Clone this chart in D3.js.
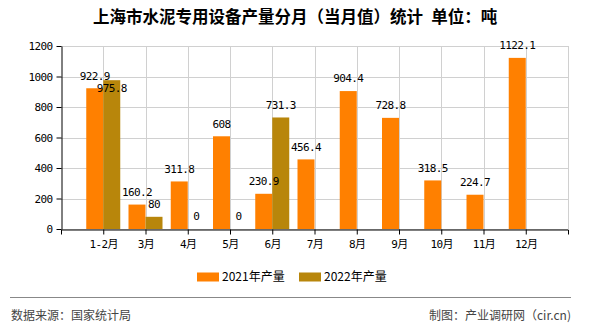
<!DOCTYPE html>
<html><head><meta charset="utf-8">
<script src="https://cdn.jsdelivr.net/npm/d3@7"></script>
<style>
body{margin:0;background:#fff;}
svg{display:block;}
.mono{font-family:"DejaVu Sans Mono","Noto Sans CJK SC",monospace;font-size:11px;letter-spacing:-0.6px;fill:#000;}
</style></head>
<body>
<svg id="c" width="590" height="330"></svg>
<script>
const categories = ["1-2月","3月","4月","5月","6月","7月","8月","9月","10月","11月","12月"];
const values2021 = [922.9,160.2,311.8,608,230.9,456.4,904.4,728.8,318.5,224.7,1122.1];
const values2022 = [975.8,80,0,0,731.3,null,null,null,null,null,null];
const seriesNames = ["2021年产量","2022年产量"];
const seriesColors = ["#ff8000","#b8860b"];
const yTicks = [0,200,400,600,800,1000,1200];
const titleText = "上海市水泥专用设备产量分月（当月值）统计\u2002单位：吨";
const sourceText = "数据来源：国家统计局";
const creditText = "制图：产业调研网（cir.cn)";

const svg = d3.select("#c");
const L = 61, R = 568, T = 46, B = 229;

const x = d3.scalePoint().domain(categories).range([L, R]).padding(1);
const sub = d3.scaleBand().domain(seriesNames).range([-17, 17]);
const y = d3.scaleLinear().domain([0, 1200]).range([B, T]);

// title
svg.append("text").attr("x", 295).attr("y", 23).attr("text-anchor", "middle")
  .attr("font-family", "'Noto Sans CJK SC',sans-serif").attr("font-weight", "bold")
  .attr("font-size", 16.5).attr("fill", "#000").text(titleText);

// grid
const grid = svg.append("g").attr("stroke", "#d0d0d0").attr("stroke-width", 1);
grid.selectAll("line.h").data(yTicks).join("line")
  .attr("x1", L).attr("x2", R).attr("y1", d => Math.round(y(d)) + 0.5).attr("y2", d => Math.round(y(d)) + 0.5);
grid.selectAll("line.v").data(categories.concat(["__end"])).join("line")
  .attr("x1", d => d === "__end" ? R + 0.5 : Math.round(x(d)) + 0.5)
  .attr("x2", d => d === "__end" ? R + 0.5 : Math.round(x(d)) + 0.5)
  .attr("y1", T).attr("y2", B);

// bars
const series = [values2021, values2022];
const barData = [];
categories.forEach((c, i) => series.forEach((vals, s) => {
  if (vals[i] !== null) barData.push({c, s, v: vals[i]});
}));
svg.append("g").selectAll("rect").data(barData).join("rect")
  .attr("x", d => x(d.c) + sub(seriesNames[d.s]))
  .attr("width", sub.bandwidth())
  .attr("y", d => y(d.v))
  .attr("height", d => B - y(d.v))
  .attr("fill", d => seriesColors[d.s]);

// axes
const yAxis = svg.append("g").attr("transform", `translate(${L + 0.5},0)`)
  .call(d3.axisLeft(y).tickValues(yTicks).tickFormat(d3.format("d")).tickSize(5).tickSizeOuter(0).tickPadding(4));
const xAxis = svg.append("g").attr("transform", `translate(0,${B + 0.5})`)
  .call(d3.axisBottom(x).tickSize(5).tickSizeOuter(5).tickPadding(4));
[yAxis, xAxis].forEach(a => {
  a.selectAll("path,line").attr("stroke", "#000");
  a.selectAll("text").attr("class", "mono").attr("font-size", null).attr("font-family", null);
});
xAxis.selectAll("text").attr("dy", "0.9em");

// data labels with simple collision avoidance
const placed = [];
const fmt = v => String(v);
barData.forEach(d => {
  const t = fmt(d.v);
  const cx = x(d.c) + sub(seriesNames[d.s]) + sub.bandwidth() / 2;
  const w = t.length * 6;
  let cy = y(d.v) - 12.5;
  for (const p of placed) {
    if (Math.abs(p.cx - cx) < (p.w + w) / 2 && Math.abs(p.cy - cy) < 12) cy = p.cy + 12.6;
  }
  placed.push({cx, cy, w});
  svg.append("text").attr("class", "mono").attr("x", cx).attr("y", cy)
    .attr("dy", "0.35em").attr("text-anchor", "middle").text(t);
});

// legend
const lg = svg.append("g");
const legendX = [197, 299];
seriesNames.forEach((n, i) => {
  lg.append("rect").attr("x", legendX[i]).attr("y", 272.5).attr("width", 22).attr("height", 9).attr("fill", seriesColors[i]);
  lg.append("text").attr("x", legendX[i] + 25).attr("y", 277).attr("dy", "0.35em")
    .attr("font-family", "'Noto Sans CJK SC',sans-serif").attr("font-size", 12).attr("fill", "#000").text(n);
});

// footer
svg.append("line").attr("x1", 10).attr("x2", 571).attr("y1", 297.5).attr("y2", 297.5).attr("stroke", "#888");
svg.append("text").attr("x", 11).attr("y", 316).attr("dy", "0.35em")
  .attr("font-family", "'Noto Sans CJK SC',sans-serif").attr("font-size", 12).attr("fill", "#444").text(sourceText);
svg.append("text").attr("x", 571).attr("y", 316).attr("dy", "0.35em").attr("text-anchor", "end")
  .attr("font-family", "'Noto Sans CJK SC',sans-serif").attr("font-size", 12).attr("fill", "#444").text(creditText);
</script>
</body></html>
